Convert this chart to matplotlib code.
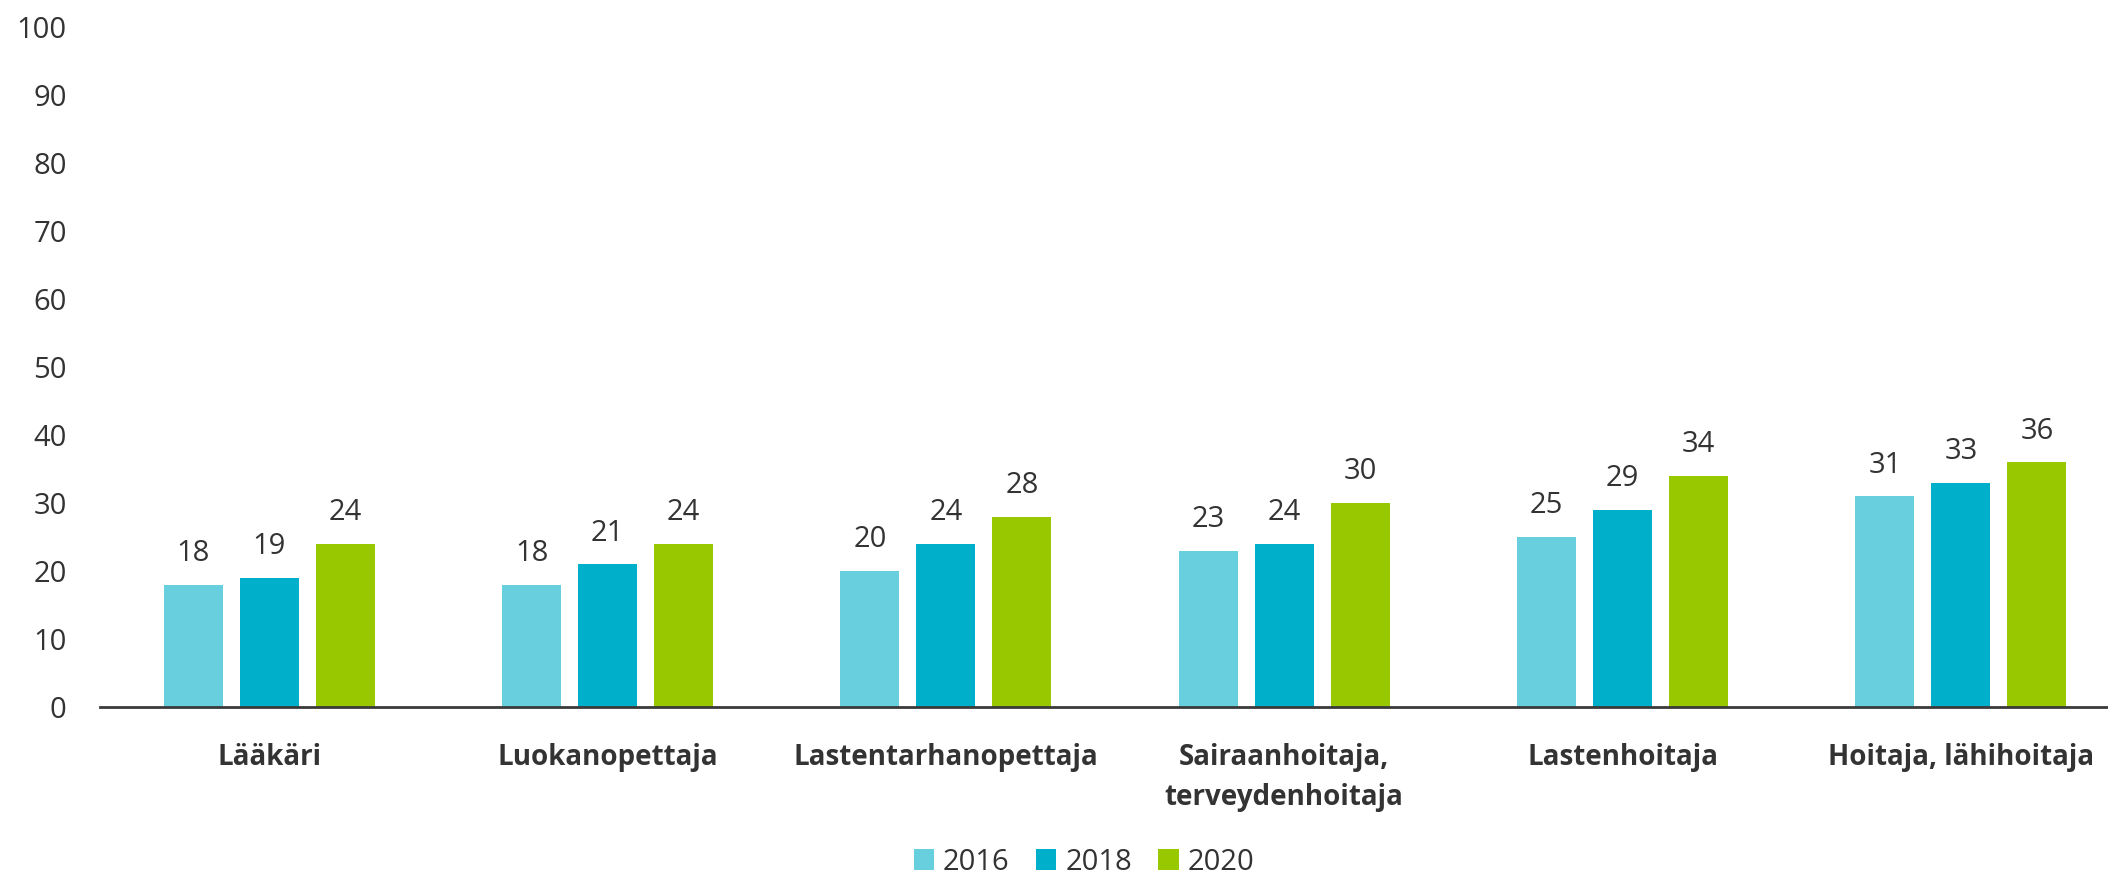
import numpy as np
import matplotlib
matplotlib.use('Agg')
import matplotlib.pyplot as plt

plt.rcParams['font.family'] = ['Open Sans', 'DejaVu Sans']

categories = ['Lääkäri', 'Luokanopettaja', 'Lastentarhanopettaja',
              'Sairaanhoitaja,\nterveydenhoitaja', 'Lastenhoitaja',
              'Hoitaja, lähihoitaja']
years = ['2016', '2018', '2020']
v2016 = [18, 18, 20, 23, 25, 31]
v2018 = [19, 21, 24, 24, 29, 33]
v2020 = [24, 24, 28, 30, 34, 36]
yticks = [0, 10, 20, 30, 40, 50, 60, 70, 80, 90, 100]

colors = ['#67CFDE', '#00B0CA', '#97C800']
textcol = '#333333'

fig = plt.figure(figsize=(21.08, 8.74), dpi=100)
ax = fig.add_axes([100 / 2108, 167 / 874, 2030 / 2108, 680 / 874])

x = np.arange(len(categories))
step = 0.2246
width = 0.174
for i, (vals, yr) in enumerate(zip([v2016, v2018, v2020], years)):
    bars = ax.bar(x + (i - 1) * step, vals, width, color=colors[i], label=yr)
    ax.bar_label(bars, labels=[str(v) for v in vals], padding=12,
                 fontsize=21, color=textcol)

ax.set_xlim(-0.5, len(categories) - 0.5)
ax.set_ylim(0, 100)
ax.set_yticks(yticks)
ax.set_yticklabels([str(t) for t in yticks], fontsize=21, color=textcol)
ax.set_xticks(x)
ax.set_xticklabels(categories, fontsize=20, fontweight='bold', color=textcol,
                   linespacing=1.5)
ax.tick_params(axis='y', length=0, pad=24)
ax.tick_params(axis='x', length=0, pad=26)

for s in ['top', 'right', 'left']:
    ax.spines[s].set_visible(False)
ax.spines['bottom'].set_color('#3a3a3a')
ax.spines['bottom'].set_linewidth(2)
ax.spines['bottom'].set_clip_on(False)

leg = fig.legend(loc='center', bbox_to_anchor=(1084 / 2108, 1 - 862 / 874),
                 ncol=3, frameon=False, fontsize=21, handlelength=0.7,
                 handleheight=0.7, handletextpad=0.3, columnspacing=0.9,
                 labelcolor=textcol)

fig.savefig('out.png', dpi=100)
